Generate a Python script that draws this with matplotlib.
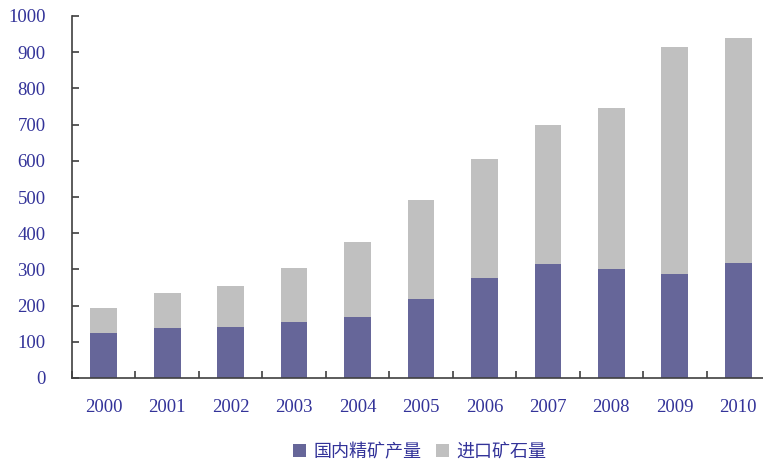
import matplotlib
matplotlib.use("Agg")
import matplotlib.pyplot as plt
import numpy as np

# data
years = ['2000', '2001', '2002', '2003', '2004', '2005',
         '2006', '2007', '2008', '2009', '2010']
domestic = [124, 138, 141, 155, 169, 218, 276, 315, 301, 287, 318]
imported = [69, 97, 113, 149, 207, 274, 329, 384, 445, 627, 621]
labels = ['国内精矿产量', '进口矿石量']

textcolor = '#333399'

fig = plt.figure(figsize=(7.63, 4.63), dpi=100)
ax = fig.add_axes([72 / 763, 85 / 463, 691 / 763, 362 / 463])

x = np.arange(len(years))
ax.bar(x, domestic, width=0.42, color='#666699', label=labels[0])
ax.bar(x, imported, width=0.42, bottom=domestic, color='#C0C0C0', label=labels[1])

ax.set_ylim(0, 1000)
ax.set_xlim(-0.5, 10.39)
ax.set_yticks(np.arange(0, 1001, 100))
ax.set_xticks(x)
ax.set_xticklabels(years)
ax.set_xticks(np.arange(-0.5, 10.5, 1), minor=True)

for sp in ['top', 'right']:
    ax.spines[sp].set_visible(False)
for sp in ['left', 'bottom']:
    ax.spines[sp].set_color('#404040')
    ax.spines[sp].set_linewidth(1.2)

ax.tick_params(axis='y', direction='in', length=5, width=1.2, color='#404040',
               pad=19, labelcolor=textcolor)
ax.tick_params(axis='x', which='major', length=0, pad=15, labelcolor=textcolor)
ax.tick_params(axis='x', which='minor', direction='in', length=5, width=1.2,
               color='#404040')
for lab in ax.get_xticklabels() + ax.get_yticklabels():
    lab.set_fontfamily('Liberation Serif')
    lab.set_fontsize(13.5)

leg = fig.legend(loc='center', bbox_to_anchor=(0.55, 0.024), ncol=2,
                 frameon=False, handlelength=0.75, handleheight=0.75,
                 handletextpad=0.4, columnspacing=0.8,
                 prop={'family': ['Noto Sans CJK SC', 'DejaVu Sans'], 'size': 13})
for t in leg.get_texts():
    t.set_color(textcolor)

fig.savefig('out.png', dpi=100)
